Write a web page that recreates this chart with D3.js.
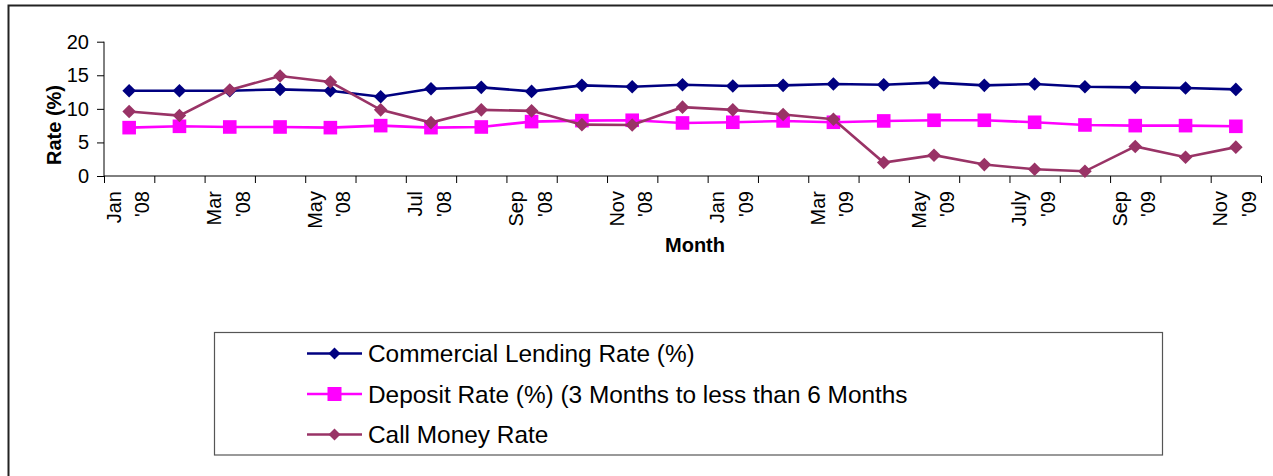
<!DOCTYPE html>
<html>
<head>
<meta charset="utf-8">
<script src="https://cdn.jsdelivr.net/npm/d3@7"></script>
<style>
  html, body { margin: 0; padding: 0; background: #fff; }
  svg { display: block; font-family: "Liberation Sans", Arial, sans-serif; }
</style>
</head>
<body>
<svg id="chart" width="1273" height="476"></svg>
<script>
const months = ["Jan '08","Feb '08","Mar '08","Apr '08","May '08","Jun '08","Jul '08","Aug '08","Sep '08","Oct '08","Nov '08","Dec '08",
                "Jan '09","Feb '09","Mar '09","Apr '09","May '09","Jun '09","July '09","Aug '09","Sep '09","Oct '09","Nov '09"];
const tickLabelMonths = ["Jan '08","Mar '08","May '08","Jul '08","Sep '08","Nov '08","Jan '09","Mar '09","May '09","July '09","Sep '09","Nov '09"];
const yTicks = [0, 5, 10, 15, 20];

const commercialLending = [12.7,12.7,12.7,12.9,12.7,11.8,13.0,13.2,12.6,13.5,13.3,13.6,13.4,13.5,13.7,13.6,13.9,13.5,13.7,13.3,13.2,13.1,12.9];
const depositRate       = [7.2,7.4,7.3,7.3,7.2,7.5,7.2,7.3,8.1,8.25,8.3,7.9,8.0,8.2,8.0,8.2,8.3,8.3,8.0,7.6,7.5,7.5,7.4];
const callMoneyRate     = [9.6,9.0,12.8,14.9,14.0,9.85,7.95,9.85,9.7,7.65,7.6,10.25,9.85,9.15,8.45,2.0,3.1,1.7,1.0,0.7,4.4,2.8,4.3];

const seriesNames = ["Commercial Lending Rate (%)", "Deposit Rate (%) (3 Months to less than 6 Months", "Call Money Rate"];

const series = [
  { name: seriesNames[0], values: commercialLending, color: "#000080", marker: "diamond" },
  { name: seriesNames[1], values: depositRate,       color: "#FF00FF", marker: "square" },
  { name: seriesNames[2], values: callMoneyRate,     color: "#993366", marker: "diamond" }
];

const svg = d3.select("#chart");

// outer chart border (cropped on right/bottom)
svg.append("rect").attr("x", 8.5).attr("y", 5.5).attr("width", 1300).attr("height", 500)
  .attr("fill", "none").attr("stroke", "#222").attr("stroke-width", 2);

const plotLeft = 104, plotRight = 1261, plotTop = 41.7, plotBottom = 176;

const x = d3.scaleBand().domain(months).range([plotLeft, plotRight]).padding(0);
const xIdx = d3.scaleLinear().domain([0, months.length]).range([plotLeft, plotRight]);
const y = d3.scaleLinear().domain([0, 20]).range([plotBottom, plotTop]);

// Y axis
const yAxis = svg.append("g").attr("transform", `translate(${plotLeft},0)`)
  .call(d3.axisLeft(y).tickValues(yTicks).tickSize(7).tickPadding(8).tickFormat(d3.format("d")));
yAxis.select(".domain").attr("stroke", "#000").attr("d", `M0,${plotTop}V${plotBottom}`);
yAxis.selectAll(".tick line").attr("stroke", "#000");
yAxis.selectAll(".tick text").attr("font-size", 20).attr("fill", "#000")
  .attr("font-family", "Liberation Sans, Arial, sans-serif");

// X axis (tick marks at category boundaries)
const xAxis = svg.append("g").attr("transform", `translate(0,${plotBottom})`)
  .call(d3.axisBottom(xIdx).tickValues(d3.range(months.length + 1)).tickSize(7).tickFormat(""));
xAxis.select(".domain").attr("stroke", "#000").attr("d", `M${plotLeft},0H${plotRight}`);
xAxis.selectAll(".tick line").attr("stroke", "#000");

// X tick labels (rotated, two lines)
const lbl = svg.append("g").selectAll("g").data(tickLabelMonths).join("g")
  .attr("transform", d => `translate(${x(d) + x.bandwidth() / 2},191) rotate(-90)`);
lbl.each(function(d) {
  const parts = d.split(" ");
  const t = d3.select(this).append("text").attr("text-anchor", "end")
    .attr("font-size", 20).attr("fill", "#000");
  t.append("tspan").attr("x", 0).attr("y", -8.5).text(parts[0]);
  t.append("tspan").attr("x", 0).attr("y", 20).text(parts[1]);
});

// Axis titles
svg.append("text").attr("x", 695).attr("y", 252).attr("text-anchor", "middle")
  .attr("font-size", 20).attr("font-weight", "bold").text("Month");
svg.append("text").attr("transform", "translate(61,125) rotate(-90)").attr("text-anchor", "middle")
  .attr("font-size", 20).attr("font-weight", "bold").text("Rate (%)");

// markers
function drawMarker(sel, type, color, r) {
  if (type === "square") {
    sel.append("rect").attr("x", -r).attr("y", -r).attr("width", 2 * r).attr("height", 2 * r)
      .attr("fill", color);
  } else {
    sel.append("path").attr("d", `M0,${-r}L${r},0L0,${r}L${-r},0Z`).attr("fill", color);
  }
}

const line = d3.line().x((d, i) => x(months[i]) + x.bandwidth() / 2).y(d => y(d));

series.forEach(s => {
  const g = svg.append("g");
  g.append("path").datum(s.values).attr("d", line).attr("fill", "none")
    .attr("stroke", s.color).attr("stroke-width", 2.6);
  g.selectAll("g").data(s.values).join("g")
    .attr("transform", (d, i) => `translate(${x(months[i]) + x.bandwidth() / 2},${y(d)})`)
    .each(function() { drawMarker(d3.select(this), s.marker, s.color, 6.8); });
});

// Legend
const legend = svg.append("g");
legend.append("rect").attr("x", 214.5).attr("y", 332.5).attr("width", 948).attr("height", 122.5)
  .attr("fill", "#fff").attr("stroke", "#555").attr("stroke-width", 1.2);
const rows = legend.selectAll("g.row").data(series).join("g").attr("class", "row")
  .attr("transform", (d, i) => `translate(0,${353.5 + i * 40.5})`);
rows.append("line").attr("x1", 307).attr("x2", 362).attr("y1", 0).attr("y2", 0)
  .attr("stroke", d => d.color).attr("stroke-width", 2.5);
rows.each(function(d) {
  const g = d3.select(this).append("g").attr("transform", "translate(334.5,0)");
  drawMarker(g, d.marker, d.color, d.marker === "square" ? 7 : 6);
});
rows.append("text").attr("x", 368).attr("y", 8.7).attr("font-size", 24.4).attr("fill", "#000")
  .text(d => d.name);
</script>
</body>
</html>
